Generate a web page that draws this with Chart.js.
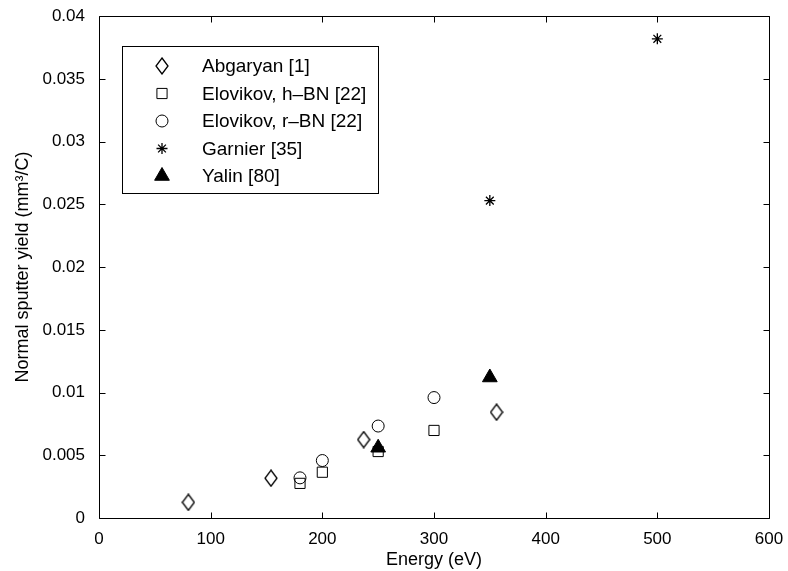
<!DOCTYPE html>
<html>
<head>
<meta charset="utf-8">
<script src="https://cdn.jsdelivr.net/npm/chart.js@4"></script>
<style>
  html, body { margin: 0; padding: 0; background: #fff; }
  #wrap { width: 788px; height: 571px; }
</style>
</head>
<body>
<div id="wrap"><canvas id="myChart" width="788" height="571"></canvas></div>
<script>
// measured sputter yields of boron nitride vs ion energy
const abgEnergy = [80, 154, 237, 356];
const abgYield = [0.00125, 0.00317, 0.00625, 0.00843];
const hbnEnergy = [180, 200, 250, 300];
const hbnYield = [0.00276, 0.00365, 0.0053, 0.00698];
const rbnEnergy = [180, 200, 250, 300];
const rbnYield = [0.0032, 0.00458, 0.00733, 0.0096];
const garEnergy = [350, 500];
const garYield = [0.0253, 0.0382];
const yalEnergy = [250, 350];
const yalYield = [0.0056, 0.0112];

const xTicks = [0, 100, 200, 300, 400, 500, 600];
const yTicks = [0, 0.005, 0.01, 0.015, 0.02, 0.025, 0.03, 0.035, 0.04];

const FONT = "'Liberation Sans', Arial, Helvetica, sans-serif";

function pts(xs, ys) {
  return xs.map((x, i) => ({ x: x, y: ys[i] }));
}

// matlab style diamond is a bit taller than wide
const diamond = document.createElement("canvas");
diamond.width = 14;
diamond.height = 18;
(function () {
  const c = diamond.getContext("2d");
  c.strokeStyle = "#000";
  c.lineWidth = 1.3;
  c.beginPath();
  c.moveTo(7, 1);
  c.lineTo(13, 9);
  c.lineTo(7, 17);
  c.lineTo(1, 9);
  c.closePath();
  c.stroke();
})();

// legend sits inside the axes, drawn by hand
const boxLegend = {
  id: "boxLegend",
  afterDraw(chart) {
    const ctx = chart.ctx;
    const x0 = 122, y0 = 46, w = 256, h = 147;
    ctx.save();
    ctx.fillStyle = "#fff";
    ctx.fillRect(x0, y0, w, h);
    ctx.strokeStyle = "#000";
    ctx.lineWidth = 1;
    ctx.strokeRect(x0 + 0.5, y0 + 0.5, w, h);
    ctx.font = "19px " + FONT;
    ctx.textBaseline = "middle";
    chart.data.datasets.forEach((ds, i) => {
      const cy = y0 + 20 + i * 27.5;
      ctx.fillStyle = ds.pointBackgroundColor;
      ctx.strokeStyle = "#000";
      ctx.lineWidth = ds.pointBorderWidth || 1;
      Chart.helpers.drawPoint(ctx, {
        pointStyle: ds.pointStyle,
        radius: ds.pointRadius,
        rotation: 0,
        borderWidth: ds.pointBorderWidth || 1
      }, 162, cy);
      ctx.fillStyle = "#000";
      ctx.fillText(ds.label, 202, cy + 1);
    });
    ctx.restore();
  }
};

// axes box with inward ticks on all four sides
const boxFrame = {
  id: "boxFrame",
  afterDatasetsDraw(chart) {
    const ctx = chart.ctx;
    const a = chart.chartArea;
    const xs = chart.scales.x, ys = chart.scales.y;
    const L = Math.round(a.left) + 0.5, R = Math.round(a.right) + 0.5;
    const T = Math.round(a.top) + 0.5, B = Math.round(a.bottom) + 0.5;
    ctx.save();
    ctx.strokeStyle = "#000";
    ctx.lineWidth = 1;
    ctx.beginPath();
    ctx.rect(L, T, R - L, B - T);
    xTicks.forEach(v => {
      const px = Math.round(xs.getPixelForValue(v)) + 0.5;
      ctx.moveTo(px, B); ctx.lineTo(px, B - 6);
      ctx.moveTo(px, T); ctx.lineTo(px, T + 6);
    });
    yTicks.forEach(v => {
      const py = Math.round(ys.getPixelForValue(v)) + 0.5;
      ctx.moveTo(L, py); ctx.lineTo(L + 6, py);
      ctx.moveTo(R, py); ctx.lineTo(R - 6, py);
    });
    ctx.stroke();
    ctx.restore();
  }
};

const ctx = document.getElementById("myChart").getContext("2d");
new Chart(ctx, {
  type: "scatter",
  data: {
    datasets: [
      {
        label: "Abgaryan [1]",
        data: pts(abgEnergy, abgYield),
        pointStyle: diamond,
        pointRadius: 7,
        pointBackgroundColor: "rgba(0,0,0,0)",
        pointBorderColor: "#000"
      },
      {
        label: "Elovikov, h\u2013BN [22]",
        data: pts(hbnEnergy, hbnYield),
        pointStyle: "rect",
        pointRadius: 7.2,
        pointBorderWidth: 1,
        pointBackgroundColor: "rgba(0,0,0,0)",
        pointBorderColor: "#000"
      },
      {
        label: "Elovikov, r\u2013BN [22]",
        data: pts(rbnEnergy, rbnYield),
        pointStyle: "circle",
        pointRadius: 6,
        pointBorderWidth: 1,
        pointBackgroundColor: "rgba(0,0,0,0)",
        pointBorderColor: "#000"
      },
      {
        label: "Garnier [35]",
        data: pts(garEnergy, garYield),
        pointStyle: "star",
        pointRadius: 5.5,
        pointBorderWidth: 1.3,
        pointBackgroundColor: "rgba(0,0,0,0)",
        pointBorderColor: "#000"
      },
      {
        label: "Yalin [80]",
        data: pts(yalEnergy, yalYield),
        pointStyle: "triangle",
        pointRadius: 8.5,
        pointBorderWidth: 1,
        pointBackgroundColor: "#000",
        pointBorderColor: "#000"
      }
    ]
  },
  options: {
    responsive: false,
    animation: false,
    layout: { padding: { top: 14, right: 19, left: 0, bottom: 0 } },
    plugins: {
      legend: { display: false },
      tooltip: { enabled: false }
    },
    scales: {
      x: {
        type: "linear",
        min: 0,
        max: 600,
        afterFit(scale) { scale.height = 53; },
        afterBuildTicks(scale) { scale.ticks = xTicks.map(v => ({ value: v })); },
        grid: { display: false },
        border: { display: false },
        ticks: {
          color: "#000",
          padding: 3,
          font: { family: FONT, size: 17 }
        },
        title: {
          display: true,
          text: "Energy (eV)",
          color: "#000",
          padding: { top: 0, bottom: 0 },
          font: { family: FONT, size: 18 }
        }
      },
      y: {
        type: "linear",
        min: 0,
        max: 0.04,
        afterFit(scale) { scale.width = 99; },
        afterBuildTicks(scale) { scale.ticks = yTicks.map(v => ({ value: v })); },
        grid: { display: false },
        border: { display: false },
        ticks: {
          color: "#000",
          padding: 6,
          font: { family: FONT, size: 17 },
          callback: v => String(parseFloat(v.toFixed(3)))
        },
        title: {
          display: true,
          text: "Normal sputter yield (mm\u00b3/C)",
          color: "#000",
          padding: { top: 12, bottom: 0 },
          font: { family: FONT, size: 18 }
        }
      }
    }
  },
  plugins: [boxLegend, boxFrame]
});
</script>
</body>
</html>
